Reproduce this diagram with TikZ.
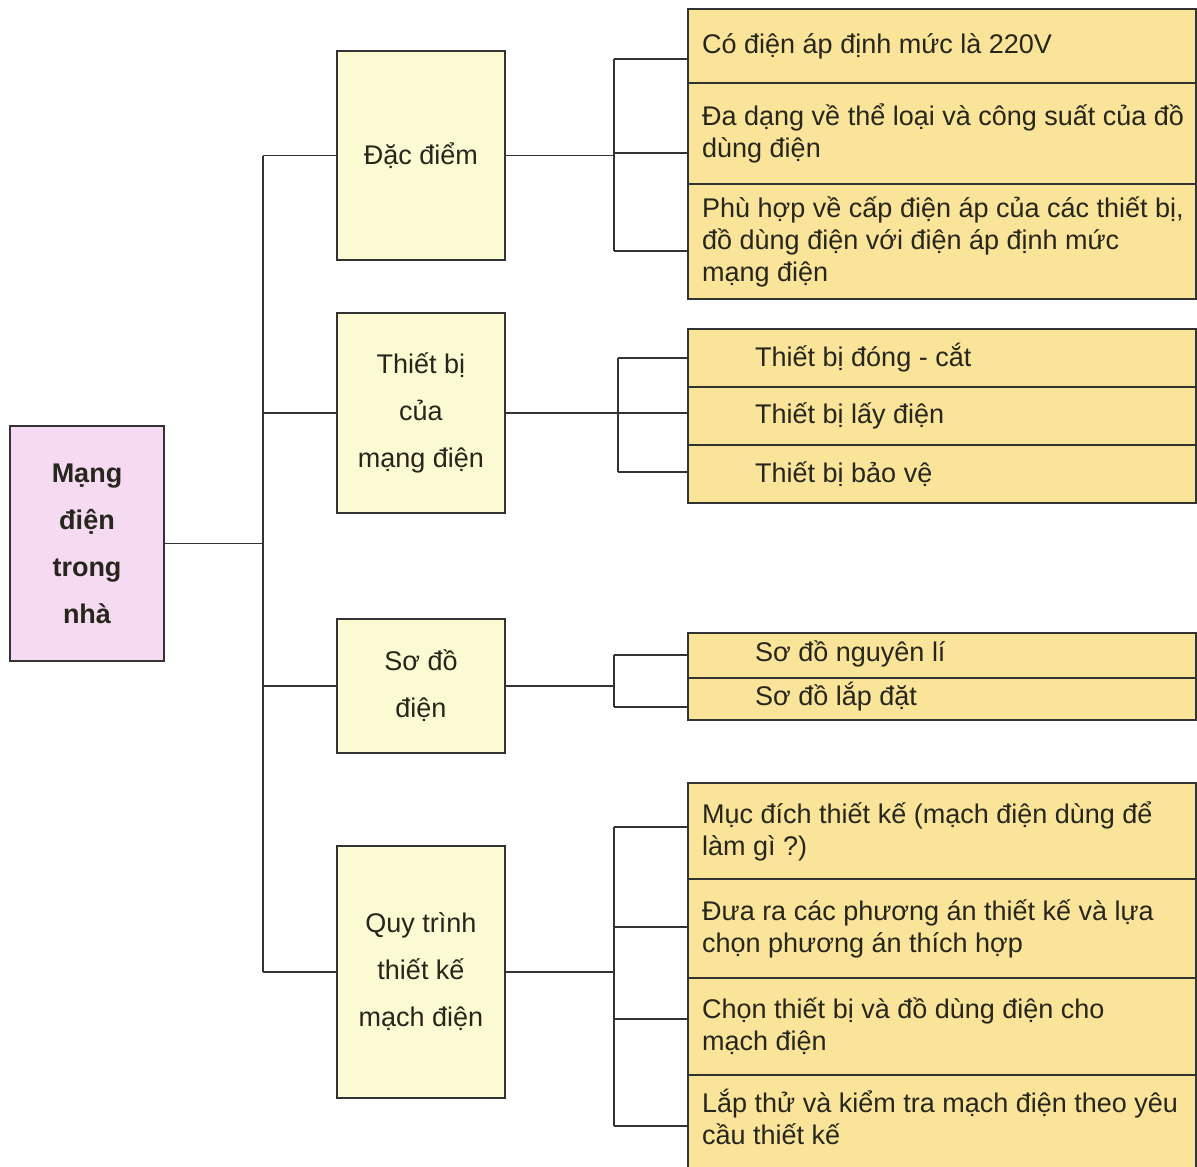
\documentclass[tikz,border=0pt]{standalone}
\usepackage{fontspec}
\setmainfont{Liberation Sans}
\definecolor{rootfill}{HTML}{F6DAF2}
\definecolor{midfill}{HTML}{FBFAD2}
\definecolor{rfill}{HTML}{FAE49A}
\definecolor{ln}{HTML}{333333}
\definecolor{tx}{HTML}{26261C}
\tikzset{
  boxbase/.style={draw=ln, line width=2pt, anchor=north west, inner sep=0pt},
  rootbox/.style={boxbase, fill=rootfill, minimum width=154pt, align=center, text=tx,
     font=\fontsize{27}{47}\selectfont\bfseries},
  midbox/.style={boxbase, fill=midfill, minimum width=168pt, align=center, text=tx,
     font=\fontsize{27}{47}\selectfont},
  rbox/.style={boxbase, fill=rfill, minimum width=508pt},
  rtxt/.style={anchor=west, align=left, inner sep=0pt, text=tx,
     font=\fontsize{27}{32}\selectfont},
  conn/.style={draw=ln, line width=1.9pt}
}
\begin{document}
\begin{tikzpicture}[x=1pt,y=-1pt]
\clip (0,0) rectangle (1197,1167);
\fill[white] (0,0) rectangle (1197,1167);

% root
\node[rootbox, minimum height=235pt] (root) at (9,425) {Mạng\\điện\\trong\\nhà};

% middle boxes
\node[midbox, minimum height=209pt] (m1) at (336,50) {Đặc điểm};
\node[midbox, minimum height=200pt] (m2) at (336,312) {Thiết bị\\của\\mạng điện};
\node[midbox, minimum height=134pt] (m3) at (336,618) {Sơ đồ\\điện};
\node[midbox, minimum height=252pt] (m4) at (336,845) {Quy trình\\thiết kế\\mạch điện};

% right group 1
\node[rbox, minimum height=74pt] (a1) at (687,8) {};
\node[rbox, minimum height=101pt] (a2) at (687,82) {};
\node[rbox, minimum height=115pt] (a3) at (687,183) {};
\node[rtxt] at ([xshift=15pt]a1.west) {Có điện áp định mức là 220V};
\node[rtxt] at ([xshift=15pt]a2.west) {Đa dạng về thể loại và công suất của đồ\\dùng điện};
\node[rtxt] at ([xshift=15pt]a3.west) {Phù hợp về cấp điện áp của các thiết bị,\\đồ dùng điện với điện áp định mức\\mạng điện};

% right group 2
\node[rbox, minimum height=58pt] (b1) at (687,328) {};
\node[rbox, minimum height=58pt] (b2) at (687,386) {};
\node[rbox, minimum height=58pt] (b3) at (687,444) {};
\node[rtxt] at ([xshift=68pt]b1.west) {Thiết bị đóng - cắt};
\node[rtxt] at ([xshift=68pt]b2.west) {Thiết bị lấy điện};
\node[rtxt] at ([xshift=68pt]b3.west) {Thiết bị bảo vệ};

% right group 3
\node[rbox, minimum height=45pt] (c1) at (687,632) {};
\node[rbox, minimum height=42pt] (c2) at (687,677) {};
\node[rtxt] at ([xshift=68pt,yshift=2pt]c1.west) {Sơ đồ nguyên lí};
\node[rtxt] at ([xshift=68pt,yshift=2pt]c2.west) {Sơ đồ lắp đặt};

% right group 4
\node[rbox, minimum height=96pt] (e1) at (687,782) {};
\node[rbox, minimum height=99pt] (e2) at (687,878) {};
\node[rbox, minimum height=97pt] (e3) at (687,977) {};
\node[rbox, minimum height=110pt] (e4) at (687,1074) {};
\node[rtxt] at ([xshift=15pt]e1.west) {Mục đích thiết kế (mạch điện dùng để\\làm gì ?)};
\node[rtxt] at ([xshift=15pt]e2.west) {Đưa ra các phương án thiết kế và lựa\\chọn phương án thích hợp};
\node[rtxt] at ([xshift=15pt]e3.west) {Chọn thiết bị và đồ dùng điện cho\\mạch điện};
\node[rtxt] at ([xshift=15pt,yshift=13pt]e4.west) {Lắp thử và kiểm tra mạch điện theo yêu\\cầu thiết kế};

% trunk from root
\coordinate (tk) at (263,0);
\draw[conn] (root.east) -- (root.east -| tk);
\draw[conn] (m1.west -| tk) -- (m4.west -| tk);
\foreach \m in {m1,m2,m3,m4}{
  \draw[conn] (\m.west -| tk) -- (\m.west);
}

% group 1 connectors
\coordinate (g1) at (614,0);
\coordinate (g1t) at (614,59);
\coordinate (g1m) at (614,153);
\coordinate (g1b) at (614,251);
\draw[conn] (m1.east) -- (m1.east -| g1);
\draw[conn] (g1t) -- (g1b);
\draw[conn] (g1t) -- (g1t -| a1.west);
\draw[conn] (g1m) -- (g1m -| a2.west);
\draw[conn] (g1b) -- (g1b -| a3.west);

% group 2 connectors
\coordinate (g2) at (618,0);
\coordinate (g2t) at (618,358);
\coordinate (g2m) at (618,413);
\coordinate (g2b) at (618,472);
\draw[conn] (m2.east) -- (m2.east -| g2);
\draw[conn] (g2t) -- (g2b);
\draw[conn] (g2t) -- (g2t -| b1.west);
\draw[conn] (g2m) -- (g2m -| b2.west);
\draw[conn] (g2b) -- (g2b -| b3.west);

% group 3 connectors
\coordinate (g3) at (614,0);
\coordinate (g3t) at (614,655);
\coordinate (g3b) at (614,707);
\draw[conn] (m3.east) -- (m3.east -| g3);
\draw[conn] (g3t) -- (g3b);
\draw[conn] (g3t) -- (g3t -| c1.west);
\draw[conn] (g3b) -- (g3b -| c2.west);

% group 4 connectors
\coordinate (g4) at (614,0);
\coordinate (g4a) at (614,827);
\coordinate (g4b) at (614,927);
\coordinate (g4c) at (614,1019);
\coordinate (g4d) at (614,1126);
\draw[conn] (m4.east) -- (m4.east -| g4);
\draw[conn] (g4a) -- (g4d);
\draw[conn] (g4a) -- (g4a -| e1.west);
\draw[conn] (g4b) -- (g4b -| e2.west);
\draw[conn] (g4c) -- (g4c -| e3.west);
\draw[conn] (g4d) -- (g4d -| e4.west);
\end{tikzpicture}
\end{document}
